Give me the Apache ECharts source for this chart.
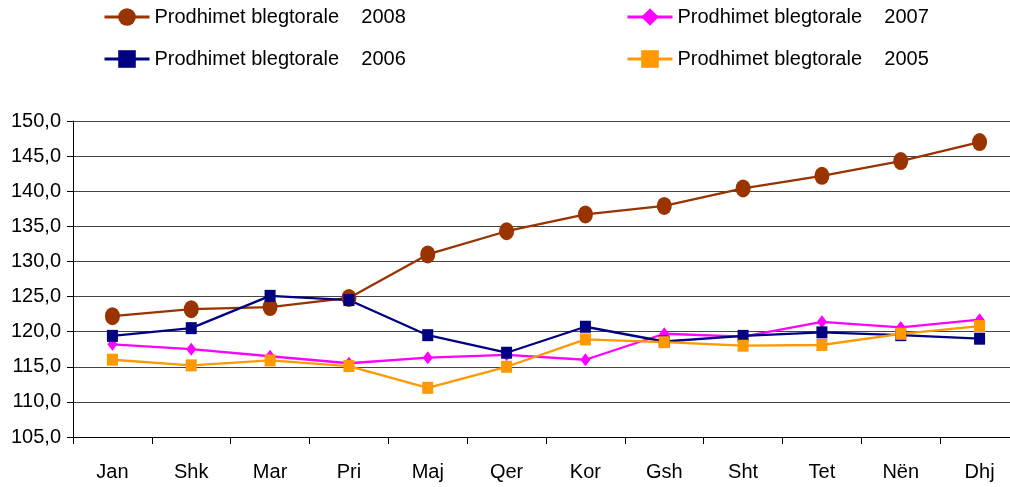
<!DOCTYPE html>
<html>
<head>
<meta charset="utf-8">
<script src="https://cdn.jsdelivr.net/npm/echarts@6/dist/echarts.min.js"></script>
<style>
  html, body {margin: 0; padding: 0; background: #fff;}
  #chart {width: 1010px; height: 487px;}
</style>
</head>
<body>
<div id="chart"></div>
<script>
// months (Albanian)
const months = ['Jan', 'Shk', 'Mar', 'Pri', 'Maj', 'Qer', 'Kor', 'Gsh', 'Sht', 'Tet', 'Nën', 'Dhj'];

// values
const y2008 = [122.2, 123.2, 123.5, 124.8, 131.0, 134.3, 136.7, 137.9, 140.4, 142.2, 144.3, 147.0];
const y2007 = [118.2, 117.5, 116.5, 115.5, 116.3, 116.7, 116.0, 119.7, 119.3, 121.4, 120.6, 121.7];
const y2006 = [119.4, 120.5, 125.1, 124.5, 119.5, 117.0, 120.7, 118.6, 119.4, 119.9, 119.5, 119.0];
const y2005 = [116.0, 115.2, 115.9, 115.1, 112.0, 115.0, 118.9, 118.5, 118.0, 118.1, 119.7, 120.8];

const label = 'Prodhimet blegtorale    ';
const font = "'Liberation Sans', Arial, sans-serif";

const chart = echarts.init(document.getElementById('chart'));

const legendBase = {
  itemWidth: 45,
  itemHeight: 22,
  itemGap: 5,
  lineStyle: {width: 3},
  textStyle: {fontFamily: font, fontSize: 20, color: '#000'}
};

chart.setOption({
  animation: false,
  textStyle: {fontFamily: font},
  legend: [
    {...legendBase, data: [label + '2008'], left: 98, top: 2},
    {...legendBase, data: [label + '2007'], left: 621, top: 2},
    {...legendBase, data: [label + '2006'], left: 98, top: 44},
    {...legendBase, data: [label + '2005'], left: 621, top: 44}
  ],
  grid: {left: 73, top: 121, width: 946, height: 316, containLabel: false, outerBoundsMode: 'none'},
  xAxis: {
    type: 'category',
    data: months,
    boundaryGap: true,
    axisLine: {lineStyle: {color: '#000', width: 1}},
    axisTick: {show: true, length: 7, lineStyle: {color: '#000'}},
    axisLabel: {color: '#000', fontSize: 20, fontFamily: font, margin: 25, interval: 0}
  },
  yAxis: {
    type: 'value',
    min: 105,
    max: 150,
    interval: 5,
    axisLine: {show: true, lineStyle: {color: '#000', width: 1}},
    axisTick: {show: true, length: 6, lineStyle: {color: '#000'}},
    axisLabel: {
      color: '#000', fontSize: 20, fontFamily: font, margin: 12,
      formatter: v => v.toFixed(1).replace('.', ',')
    },
    splitLine: {show: true, lineStyle: {color: '#444', width: 1}}
  },
  series: [{
    name: label + '2008',
    type: 'line',
    data: y2008,
    symbol: 'circle',
    symbolSize: [15, 18],
    color: '#993300',
    lineStyle: {width: 2.3}
  }, {
    name: label + '2007',
    type: 'line',
    data: y2007,
    symbol: 'diamond',
    symbolSize: [10, 13],
    color: '#FF00FF',
    lineStyle: {width: 2.3}
  }, {
    name: label + '2006',
    type: 'line',
    data: y2006,
    symbol: 'rect',
    symbolSize: [11, 12],
    color: '#000080',
    lineStyle: {width: 2.3}
  }, {
    name: label + '2005',
    type: 'line',
    data: y2005,
    symbol: 'rect',
    symbolSize: [11, 12],
    color: '#FF9900',
    lineStyle: {width: 2.3}
  }]
});
</script>
</body>
</html>
